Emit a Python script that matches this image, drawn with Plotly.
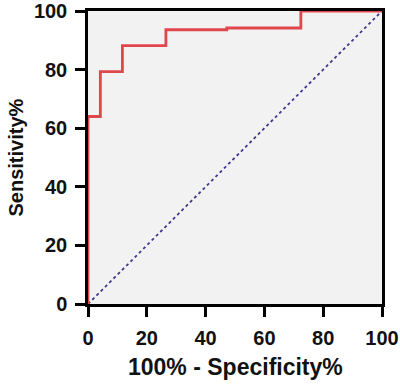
import plotly.graph_objects as go

# ROC curve points (100% - Specificity%, Sensitivity%)
fpr = [0, 0, 4.2, 4.2, 11.7, 11.7, 26.5, 26.5, 47.2, 47.2, 72.4, 72.4, 100]
tpr = [0, 64, 64, 79.3, 79.3, 88.2, 88.2, 93.6, 93.6, 94.2, 94.2, 100, 100]
ref_x = [0, 100]
ref_y = [0, 100]
tick_vals = [0, 20, 40, 60, 80, 100]
x_title = "100% - Specificity%"
y_title = "Sensitivity%"

L, R, T, B = 88, 18, 11, 83
W, H = 400, 387
pw = W - L - R

fig = go.Figure()
fig.add_trace(go.Scatter(x=ref_x, y=ref_y, mode="lines",
                         line=dict(color="#3a3a8c", width=1.8, dash="dot"),
                         showlegend=False, hoverinfo="skip"))
fig.add_trace(go.Scatter(x=fpr, y=tpr, mode="lines",
                         line=dict(color="#e0474c", width=2.8),
                         showlegend=False, cliponaxis=False))

font_main = "Liberation Sans, Arial, sans-serif"
axis_common = dict(
    range=[0, 100], tickvals=tick_vals, showgrid=False, zeroline=False,
    showline=True, linecolor="black", linewidth=2.5, mirror=True,
    ticks="outside", ticklen=10, tickwidth=2.5, tickcolor="black",
    tickfont=dict(family=font_main, size=20, color="#111111", weight="bold"),
    layer="below traces", fixedrange=True, automargin=False,
    ticklabelstandoff=4,
)
fig.update_xaxes(**axis_common)
fig.update_yaxes(**axis_common)

fig.add_annotation(text=x_title, xref="paper", yref="paper", x=0.5, y=0,
                   yshift=-63, xanchor="center", yanchor="middle", showarrow=False,
                   font=dict(family=font_main, size=23, color="#111111", weight="bold"))
fig.add_annotation(text=y_title, xref="paper", yref="paper", x=(15 - L) / pw, y=0.5,
                   xanchor="center", yanchor="middle", textangle=-90, showarrow=False,
                   font=dict(family=font_main, size=20, color="#111111", weight="bold"))

fig.update_layout(
    width=W, height=H,
    margin=dict(l=L, r=R, t=T, b=B),
    plot_bgcolor="#f2f2f2", paper_bgcolor="white",
    font=dict(family=font_main, size=16, color="#111111"),
)
fig.write_html("out.html", config={"displayModeBar": False},
               post_script="document.body.style.margin='0';document.body.style.padding='0';")
